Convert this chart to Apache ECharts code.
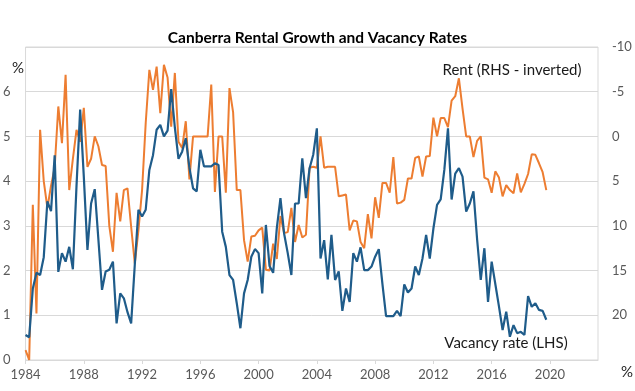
<!DOCTYPE html>
<html>
<head>
<meta charset="utf-8">
<script src="https://cdn.jsdelivr.net/npm/echarts@6/dist/echarts.min.js"></script>
<style>
html,body{margin:0;padding:0;background:#fff;}
#chart{width:635px;height:391px;}
</style>
</head>
<body>
<div id="chart"></div>
<script>
// Quarterly data, 1984 Q1 to 2019 Q4
var startYear = 1984;
var xTickLabels = [1984, 1988, 1992, 1996, 2000, 2004, 2008, 2012, 2016, 2020];
var leftTicks = [0, 1, 2, 3, 4, 5, 6];
var rightTicks = [-10, -5, 0, 5, 10, 15, 20];

// Vacancy rate (LHS, %)
var vacancy = [
 0.56,0.51,1.6,1.95, 1.9,2.3,3.55,3.33, 4.58,1.97,2.39,2.2, 2.53,2.03,3.9,5.6,
 4.1,2.46,3.5,3.82, 2.7,1.57,1.98,2.02, 2.2,0.82,1.49,1.38, 1.07,0.82,2.13,3.36,
 3.21,3.36,4.25,4.58, 5.15,5.26,5.0,5.13, 6.06,5.2,4.5,4.66, 4.96,4.3,3.84,3.77,
 4.7,4.33,4.33,4.33, 4.4,4.36,2.87,2.53, 1.9,1.79,1.27,0.71, 1.49,1.79,2.31,2.48,
 2.39,1.49,3.02,2.1, 1.95,2.95,3.62,2.83, 2.39,1.9,3.5,3.5, 4.51,3.62,4.29,4.59,
 5.18,2.27,2.68,1.8, 2.8,1.79,1.98,1.1, 1.6,1.3,2.39,2.2, 2.52,2.01,2.01,2.09,
 2.31,2.48,1.7,0.98, 0.98,0.98,1.1,0.98, 1.69,1.51,1.6,2.09, 1.9,2.27,2.8,2.27,
 2.94,3.47,3.59,4.25, 5.18,3.59,4.17,4.29, 4.1,3.32,3.5,3.77, 2.7,1.79,2.5,1.3,
 2.2,1.7,1.2,0.67, 1.08,0.52,0.78,0.6, 0.63,0.56,1.43,1.19, 1.27,1.12,1.1,0.9
];

// Rent growth (RHS, %, inverted)
var rent = [
 23.9,25,7.65,19.8, -0.74,5.0,8.0,5.5, 3.5,-3.35,0.75,-6.9, 6.0,2.5,-0.74,0.6,
 -3.2,3.4,2.5,0, 1.1,3.2,3.3,10.0, 12.9,6.3,9.5,6.0, 5.8,10.1,14.2,10.5,
 6.0,-1.5,-7.45,-5.2, -7.8,-2.6,-8.0,-6.6, -1.1,-7.1,0.6,1.3, -1.7,4.8,0,0,
 0,0,0,-5.8, 6.2,0,0,6.3, -5.4,-2.7,6.0,6.0, 11.6,14.0,11.2,11.1,
 10.5,10.2,14.9,15.0, 12.0,13.7,8.9,10.8, 10.7,8.0,11.8,9.9, 11.3,11.0,3.5,3.4,
 3.5,0,3.5,3.4, 3.4,3.4,6.7,6.6, 6.5,10.5,9.4,9.5, 11.8,12.5,8.7,11.4,
 6.8,9.1,5.2,5.2, 6.3,2.3,7.5,7.4, 7.1,4.7,4.7,2.4, 2.25,4.5,2.25,2.2,
 -2.1,0,-2.05,-2.05, -1.05,-4.0,-4.5,-6.5, -3.1,0,0,2.3, 0.5,0,4.6,4.8,
 6.3,3.9,4.6,6.7, 5.45,6.0,6.35,4.15, 6.25,5.3,4.2,2.0, 2.06,3.0,4.0,6.0
];

function toPairs(arr){
  return arr.map(function(v,i){ return [startYear + i/4, v]; });
}

var FONT = 'Lato, "Liberation Sans", sans-serif';
var chart = echarts.init(document.getElementById('chart'));
chart.setOption({
  animation:false,
  backgroundColor:'#fff',
  title:{
    text:'Canberra Rental Growth and Vacancy Rates',
    left:'center', top:25,
    textStyle:{fontFamily:FONT, fontWeight:'bold', fontSize:15.5, color:'#000'}
  },
  grid:{left:24, right:37, top:47, bottom:31, show:true, borderColor:'#d9d9d9', borderWidth:1},
  xAxis:{
    type:'value', min:1984, max:2023.3, interval:4,
    axisLine:{show:true, lineStyle:{color:'#d9d9d9'}},
    axisTick:{show:true, length:4, lineStyle:{color:'#d9d9d9'}},
    splitLine:{show:false},
    axisLabel:{
      showMaxLabel:false, margin:8, color:'#595959', fontFamily:FONT, fontSize:13,
      formatter:function(v){ return xTickLabels.indexOf(Math.round(v))>=0 && Math.abs(v-Math.round(v))<1e-6 ? String(Math.round(v)) : ''; }
    }
  },
  yAxis:[
    {
      type:'value', min:0, max:7, interval:1, position:'left',
      axisLine:{show:false}, axisTick:{show:false},
      splitLine:{show:true, lineStyle:{color:'#d9d9d9'}},
      axisLabel:{margin:15, color:'#595959', fontFamily:FONT, fontSize:13,
        formatter:function(v){ return leftTicks.indexOf(v)>=0 ? String(v) : ''; }}
    },
    {
      type:'value', min:-10, max:25, interval:5, inverse:true, position:'right',
      axisLine:{show:false}, axisTick:{show:false}, splitLine:{show:false},
      axisLabel:{margin:14, color:'#595959', fontFamily:FONT, fontSize:13,
        formatter:function(v){ return rightTicks.indexOf(v)>=0 ? String(v) : ''; }}
    }
  ],
  series:[
    {
      name:'Rent (RHS - inverted)', type:'line', yAxisIndex:1,
      data:toPairs(rent), showSymbol:false, symbol:'none',
      lineStyle:{color:'#ed7d31', width:2}, itemStyle:{color:'#ed7d31'}
    },
    {
      name:'Vacancy rate (LHS)', type:'line', yAxisIndex:0,
      data:toPairs(vacancy), showSymbol:false, symbol:'none',
      lineStyle:{color:'#1f5c8a', width:2.2}, itemStyle:{color:'#1f5c8a'}
    }
  ],
  graphic:[
    {type:'text', x:18, y:68, style:{text:'%', fontFamily:FONT, fontSize:15, fill:'#262626', align:'center', verticalAlign:'middle'}},
    {type:'text', x:627, y:372, style:{text:'%', fontFamily:FONT, fontSize:15, fill:'#262626', align:'center', verticalAlign:'middle'}},
    {type:'text', x:512, y:70, style:{text:'Rent (RHS - inverted)', fontFamily:FONT, fontSize:15, fill:'#1a1a1a', align:'center', verticalAlign:'middle'}},
    {type:'text', x:506, y:343, style:{text:'Vacancy rate (LHS)', fontFamily:FONT, fontSize:15, fill:'#1a1a1a', align:'center', verticalAlign:'middle'}}
  ]
});
</script>
</body>
</html>
